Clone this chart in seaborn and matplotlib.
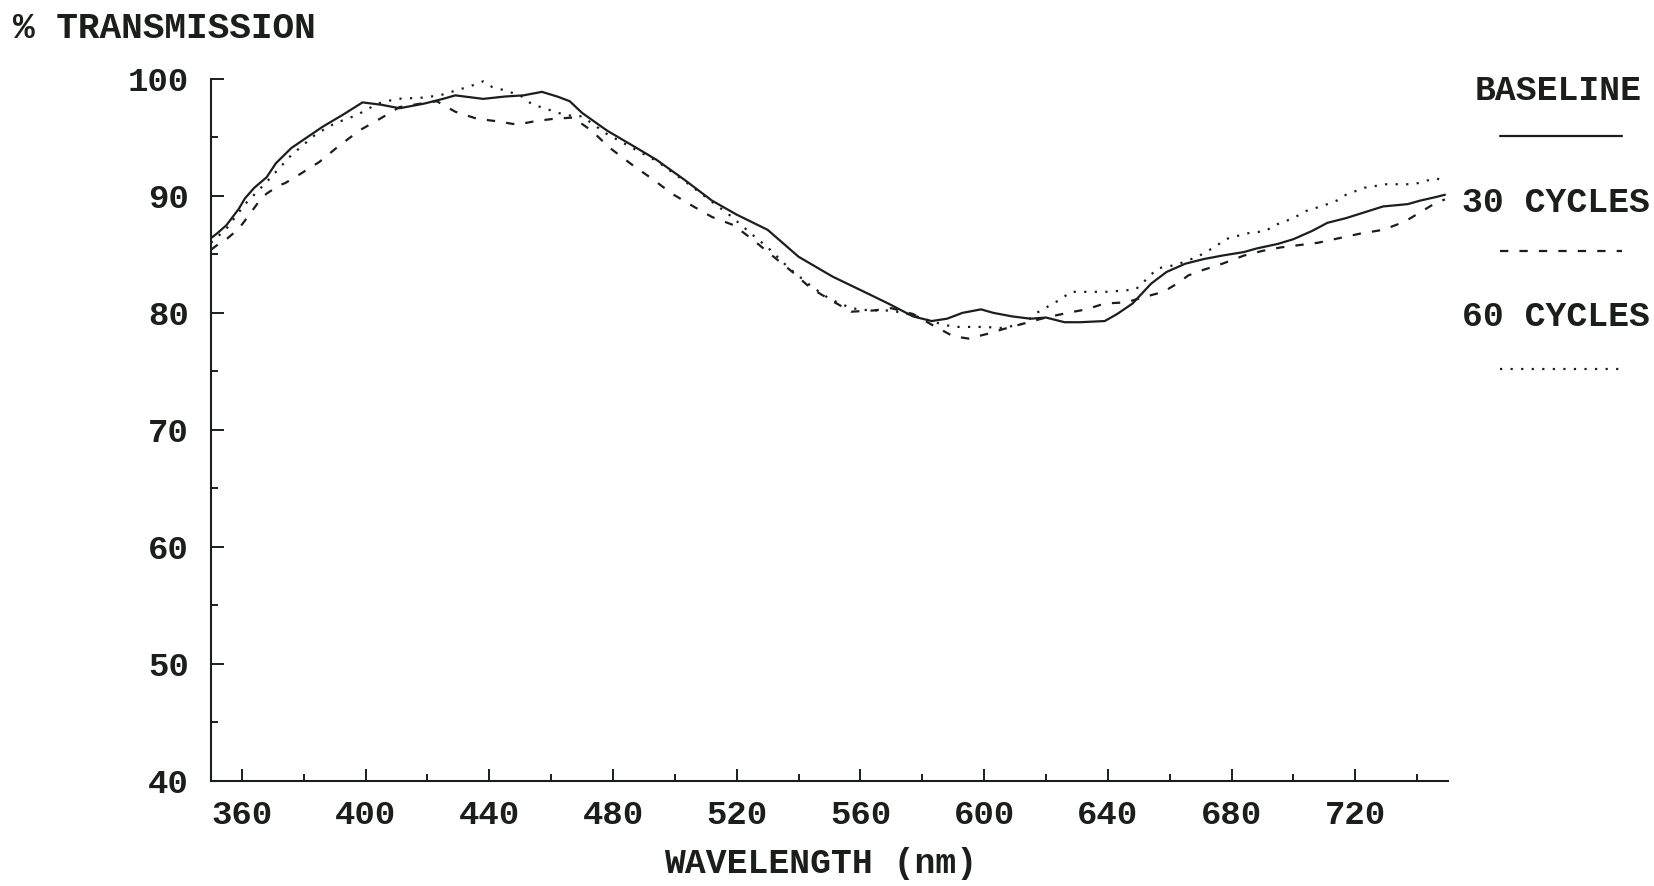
import matplotlib
matplotlib.use("Agg")
import numpy as np
import pandas as pd
import seaborn as sns
import matplotlib.pyplot as plt
from matplotlib.lines import Line2D

# ---------------- data ----------------
baseline_nm = [350, 352, 355, 357, 359, 361, 364, 368, 371, 376,
               381, 386, 393, 399, 405, 411, 419, 425, 429, 438,
               445, 451, 457, 462, 466, 470, 478, 487, 494, 503,
               512, 520, 530, 540, 551, 562, 569, 577, 583, 588,
               593, 599, 603, 609, 615, 620, 626, 631, 639, 643,
               648, 654, 659, 665, 671, 677, 684, 688, 695, 700,
               706, 711, 717, 723, 729, 737, 741, 746, 749]
baseline_pct = [86.4, 86.8, 87.5, 88.2, 88.9, 89.8, 90.7, 91.6, 92.8, 94.1,
                95.0, 95.9, 97.0, 98.0, 97.8, 97.5, 97.9, 98.3, 98.6, 98.3,
                98.5, 98.6, 98.9, 98.5, 98.1, 97.1, 95.6, 94.2, 93.1, 91.4,
                89.6, 88.4, 87.1, 84.8, 83.1, 81.7, 80.8, 79.7, 79.3, 79.5,
                80.0, 80.3, 80.0, 79.7, 79.5, 79.6, 79.2, 79.2, 79.3, 79.9,
                80.8, 82.5, 83.5, 84.2, 84.6, 84.9, 85.2, 85.5, 85.9, 86.3,
                87.0, 87.7, 88.1, 88.6, 89.1, 89.3, 89.6, 89.9, 90.1]

cyc30_nm = [350, 352, 355, 359, 361, 366, 368, 372, 374, 379,
            385, 391, 398, 404, 411, 418, 423, 429, 436, 442,
            449, 455, 461, 467, 473, 479, 487, 493, 499, 506,
            512, 519, 525, 531, 538, 544, 551, 557, 564, 570,
            577, 583, 590, 595, 601, 606, 613, 620, 627, 633,
            639, 646, 651, 658, 663, 666, 670, 677, 684, 690,
            696, 702, 708, 715, 722, 729, 736, 741, 746, 749]
cyc30_pct = [85.4, 85.8, 86.3, 87.2, 87.9, 89.7, 90.2, 90.9, 91.1, 91.9,
             92.9, 94.2, 95.6, 96.5, 97.6, 97.9, 98.1, 97.2, 96.6, 96.4,
             96.1, 96.4, 96.6, 96.7, 95.6, 94.1, 92.5, 91.4, 90.2, 89.1,
             88.2, 87.5, 86.3, 85.0, 83.5, 82.1, 81.0, 80.1, 80.2, 80.4,
             79.9, 79.0, 78.0, 77.8, 78.2, 78.6, 79.1, 79.6, 80.0, 80.3,
             80.8, 80.9, 81.3, 81.8, 82.6, 83.2, 83.6, 84.2, 84.9, 85.3,
             85.6, 85.8, 86.0, 86.4, 86.8, 87.1, 87.8, 88.6, 89.4, 89.7]

cyc60_nm = [350, 355, 361, 368, 376, 384, 390, 397, 404, 410,
            418, 424, 429, 434, 438, 441, 444, 450, 454, 458,
            461, 465, 470, 478, 487, 494, 503, 512, 518, 525,
            530, 537, 544, 550, 557, 563, 570, 577, 584, 590,
            600, 606, 613, 617, 621, 625, 628, 640, 649, 653,
            656, 662, 669, 675, 678, 685, 691, 694, 700, 704,
            710, 714, 717, 720, 723, 730, 739, 743, 746, 749]
cyc60_pct = [86.0, 87.2, 89.3, 91.2, 93.5, 95.3, 96.2, 96.9, 97.9, 98.3,
             98.4, 98.6, 99.0, 99.4, 99.8, 99.3, 99.1, 98.6, 97.8, 97.5,
             97.2, 96.9, 96.8, 95.3, 94.0, 93.0, 91.3, 89.5, 88.3, 86.7,
             85.6, 83.8, 82.3, 81.2, 80.4, 80.2, 80.2, 79.8, 79.2, 78.8,
             78.8, 78.7, 79.1, 80.0, 80.6, 81.2, 81.8, 81.8, 82.0, 83.0,
             83.8, 84.1, 84.8, 85.7, 86.3, 86.8, 87.0, 87.5, 88.1, 88.7,
             89.2, 89.6, 90.1, 90.4, 90.7, 91.0, 91.0, 91.3, 91.5, 91.3]

series_names = ["BASELINE", "30 CYCLES", "60 CYCLES"]
x_major = [360, 400, 440, 480, 520, 560, 600, 640, 680, 720]
x_minor = [380, 420, 460, 500, 540, 580, 620, 660, 700, 740]
y_major = [40, 50, 60, 70, 80, 90, 100]
y_minor = [45, 55, 65, 75, 85, 95]
x_title = "WAVELENGTH (nm)"
y_title = "% TRANSMISSION"

# ---------------- style ----------------
sns.set_style("ticks")
plt.rcParams["font.family"] = ["Liberation Mono", "DejaVu Sans Mono"]
plt.rcParams["font.weight"] = "bold"
plt.rcParams["lines.scale_dashes"] = False
INK = "#1b1f1b"
FS_TICK = 24.5
FS_TEXT = 25

df = pd.concat([
    pd.DataFrame({"nm": baseline_nm, "pct": baseline_pct, "series": series_names[0]}),
    pd.DataFrame({"nm": cyc30_nm, "pct": cyc30_pct, "series": series_names[1]}),
    pd.DataFrame({"nm": cyc60_nm, "pct": cyc60_pct, "series": series_names[2]}),
], ignore_index=True)

W, H = 1654, 886
fig = plt.figure(figsize=(W / 100, H / 100), dpi=100)
L, R, T, B = 211, 1448, 79, 780.6
ax = fig.add_axes([L / W, 1 - B / H, (R - L) / W, (B - T) / H])

dash_map = {series_names[0]: "", series_names[1]: (6.0, 8.0), series_names[2]: (1.6, 6.0)}
sns.lineplot(data=df, x="nm", y="pct", style="series", dashes=dash_map,
             color=INK, linewidth=1.6, estimator=None, sort=False,
             legend=False, ax=ax)

ax.set_xlim(350, 750)
ax.set_ylim(40, 100)
ax.set_xticks(x_major)
ax.set_xticks(x_minor, minor=True)
ax.set_yticks(y_major)
ax.set_yticks(y_minor, minor=True)
ax.set_xticklabels([str(v) for v in x_major])
ax.set_yticklabels([str(v) for v in y_major])
sns.despine(ax=ax)
for s in ("left", "bottom"):
    ax.spines[s].set_linewidth(1.5)
    ax.spines[s].set_color(INK)
ax.tick_params(which="major", direction="in", length=9, width=1.4, color=INK,
               labelsize=FS_TICK, labelcolor=INK, pad=16)
ax.tick_params(which="minor", direction="in", length=5, width=1.4, color=INK)
ax.tick_params(axis="x", which="major", pad=14)

ax.set_xlabel(x_title, fontsize=FS_TEXT, color=INK, fontweight="bold")
ax.xaxis.set_label_coords((821 - L) / (R - L), -(864 - B) / (B - T))
ax.xaxis.label.set_va("center")
ax.set_ylabel(y_title, fontsize=26, color=INK, fontweight="bold", rotation=0)
ax.yaxis.set_label_coords((13 - L) / (R - L), 1 + (T - 28) / (B - T))
ax.yaxis.label.set_ha("left")
ax.yaxis.label.set_va("center")

# legend, drawn as in the original printout
leg_text_y = [90, 203, 316]
leg_line_y = [136, 251, 369]
leg_text_x = [1642, 1650, 1650]
for name, tx, ty, ly in zip(series_names, leg_text_x, leg_text_y, leg_line_y):
    fig.text(tx / W, 1 - ty / H, name, ha="right", va="center",
             fontsize=FS_TEXT, color=INK, fontweight="bold")
    ln = Line2D([1500 / W, 1622 / W], [1 - ly / H, 1 - ly / H],
                transform=fig.transFigure, color=INK, linewidth=1.6)
    if dash_map[name]:
        ln.set_dashes(dash_map[name])
    fig.add_artist(ln)

fig.savefig("out.png", dpi=100, facecolor="white")
